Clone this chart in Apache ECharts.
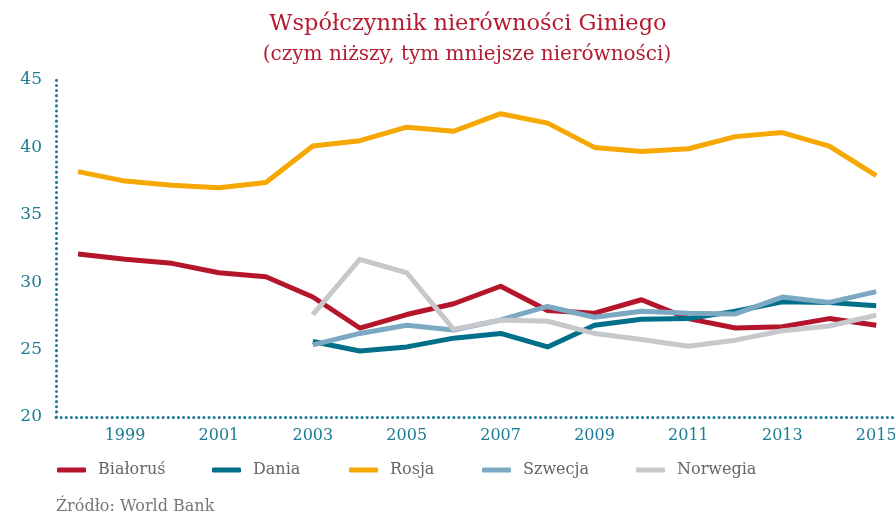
<!DOCTYPE html>
<html><head><meta charset="utf-8">
<script src="https://cdn.jsdelivr.net/npm/echarts@6/dist/echarts.min.js"></script>
<style>html,body{margin:0;padding:0;background:#fff}#c{width:895px;height:516px}</style>
</head><body><div id="c"></div>
<script>
const years = [1998,1999,2000,2001,2002,2003,2004,2005,2006,2007,2008,2009,2010,2011,2012,2013,2014,2015];
const tickYears = [1999,2001,2003,2005,2007,2009,2011,2013,2015];
const bialorus = [32.1,31.7,31.4,30.7,30.4,28.9,26.6,27.6,28.4,29.7,27.9,27.7,28.7,27.3,26.6,26.7,27.3,26.8];
const dania    = [null,null,null,null,null,25.6,24.9,25.2,25.85,26.2,25.2,26.8,27.25,27.3,27.85,28.55,28.5,28.25];
const rosja    = [38.2,37.5,37.2,37.0,37.4,40.1,40.5,41.5,41.2,42.5,41.8,40.0,39.7,39.9,40.8,41.1,40.1,37.9];
const szwecja  = [null,null,null,null,null,25.35,26.2,26.8,26.45,27.2,28.2,27.4,27.85,27.7,27.65,28.9,28.5,29.3];
const norwegia = [null,null,null,null,null,27.6,31.7,30.7,26.5,27.2,27.1,26.2,25.75,25.25,25.7,26.4,26.75,27.55];
const names = ['Białoruś','Dania','Rosja','Szwecja','Norwegia'];
const colors = ['#b5152b','#006f89','#f6a800','#7ba8c2','#c6c8cb'];
const seriesData = [bialorus,dania,rosja,szwecja,norwegia];
const legendLeft = [57,212,349,482,636];

const FONT = 'DejaVu Serif';
const axisColor = '#1b7c93';
const chart = echarts.init(document.getElementById('c'), null, {renderer:'canvas'});

const series = names.map((n,i)=>({
  name:n, type:'line', showSymbol:false, symbol:'none',
  data: years.map((y,k)=>seriesData[i][k]==null?null:[y,seriesData[i][k]]).filter(d=>d),
  lineStyle:{color:colors[i], width:5, join:'round', cap:'butt'},
  itemStyle:{color:colors[i]},
  z: 2+i
}));

chart.setOption({
  animation:false,
  title:[
    {text:'Współczynnik nierówności Giniego', left:463, textAlign:'center', top:8,
     textStyle:{fontFamily:FONT, fontWeight:'normal', fontSize:22.5, color:'#b31b30'}},
    {text:'(czym niższy, tym mniejsze nierówności)', left:462, textAlign:'center', top:40,
     textStyle:{fontFamily:FONT, fontWeight:'normal', fontSize:20, color:'#b31b30'}}
  ],
  legend: names.map((n,i)=>({
    data:[{name:n, icon:'roundRect'}], left:legendLeft[i], top:462, padding:0, itemWidth:29, itemHeight:5,
    textStyle:{fontFamily:FONT, fontSize:16, color:'#666', padding:[0,0,0,7]}
  })),
  graphic:[{type:'text', left:56, top:499, style:{text:'Źródło: World Bank', fontFamily:FONT, fontSize:16, fill:'#777'}}],
  grid:{left:56, right:0, top:80, bottom:99, containLabel:false, outerBoundsMode:'none'},
  xAxis:{type:'value', min:1997.53, max:2015.4,
    axisLine:{show:true, lineStyle:{color:axisColor, width:3, type:[0.1,5], cap:'round'}},
    axisTick:{show:false}, splitLine:{show:false},
    axisLabel:{customValues:tickYears, formatter:v=>String(v), color:axisColor, fontFamily:FONT, fontSize:16, margin:11, hideOverlap:false}
  },
  yAxis:{type:'value', min:20, max:45, interval:5,
    axisLine:{show:true, lineStyle:{color:axisColor, width:3, type:[0.1,5], cap:'round'}},
    axisTick:{show:false}, splitLine:{show:false},
    axisLabel:{color:axisColor, fontFamily:FONT, fontSize:17, margin:14}
  },
  series
});
</script></body></html>
